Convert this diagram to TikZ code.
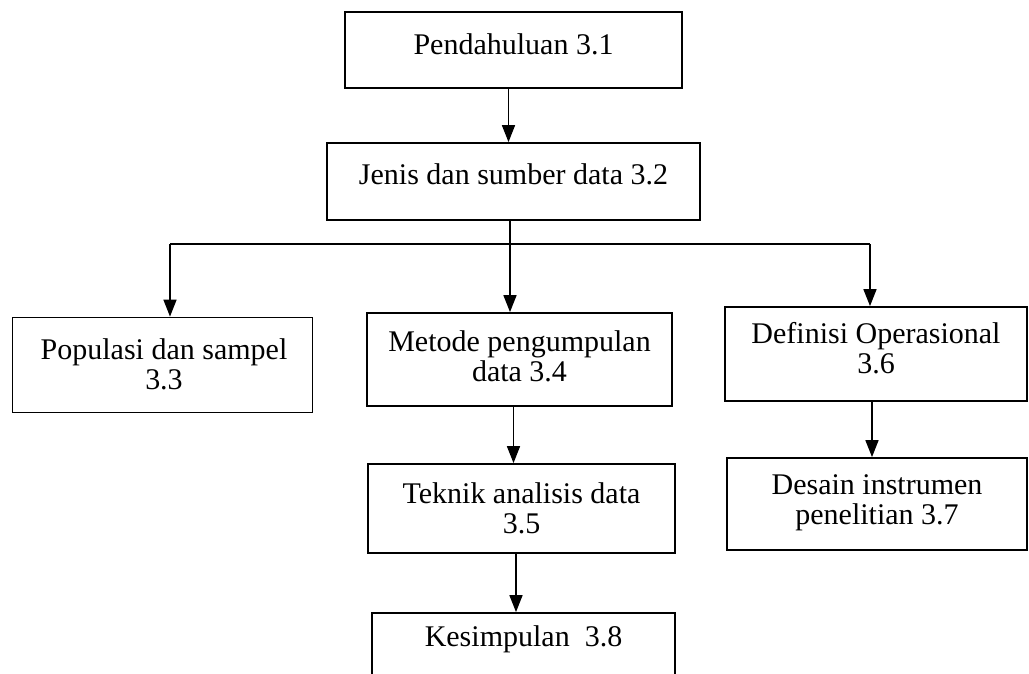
\documentclass[tikz,border=0pt]{standalone}
\usepackage{fontspec}
\setmainfont{Liberation Serif}
\usetikzlibrary{arrows.meta}
\newcommand{\twoln}[2]{\begin{tabular}[t]{@{}c@{}}#1\\#2\end{tabular}}
\begin{document}
\begin{tikzpicture}[x=1pt,y=-1pt,
  boxx/.style={draw, line width=1.8pt, inner sep=0pt, rectangle},
  lbl/.style={font=\fontsize{30}{30}\selectfont, inner sep=0pt, anchor=base},
  arr/.style={line width=1.6pt, -{Triangle[length=17pt,width=13pt]}},
  ln/.style={line width=1.6pt}]
\useasboundingbox (0,0) rectangle (1029,673);
\clip (0,0) rectangle (1029,673);
\fill[white] (0,0) rectangle (1029,673);

% boxes
\node[boxx, minimum width=337pt, minimum height=76pt] (b1) at (513.5,50) {};
\node[boxx, minimum width=373pt, minimum height=77pt] (b2) at (513.5,181.5) {};
\node[boxx, minimum width=300pt, minimum height=95pt] (b3) at (162.5,365) {};
\node[boxx, minimum width=305pt, minimum height=93pt] (b4) at (519.5,359.5) {};
\node[boxx, minimum width=302pt, minimum height=94pt] (b6) at (876,354) {};
\node[boxx, minimum width=307pt, minimum height=89pt] (b5) at (521.5,508.5) {};
\node[boxx, minimum width=300pt, minimum height=92pt] (b7) at (877,504) {};
\node[boxx, minimum width=303pt, minimum height=87pt] (b8) at (523.5,656.5) {};

% texts
\node[lbl] (t1) at (513.5,54) {Pendahuluan 3.1};
\node[lbl] (t2) at (513.5,184) {Jenis dan sumber data 3.2};
\node[lbl] (t3) at (164,359) {\twoln{Populasi dan sampel}{3.3}};
\node[lbl] (t4) at (519.5,351) {\twoln{Metode pengumpulan}{data 3.4}};
\node[lbl] (t6) at (876,343) {\twoln{Definisi Operasional}{3.6}};
\node[lbl] (t5) at (521.5,503) {\twoln{Teknik analisis data}{3.5}};
\node[lbl] (t7) at (877,494) {\twoln{Desain instrumen}{penelitian 3.7}};
\node[lbl] (t8) at (523.5,646) {Kesimpulan\ \ 3.8};

% connectors
\coordinate (j) at (510,244);
\coordinate (jl) at (170,244);
\coordinate (jr) at (870,244);
\draw[arr] ([xshift=-5]b1.south) -- ([xshift=-5]b2.north);
\draw[ln] (b2.south -| j) -- (j);
\draw[ln] (jl) -- (jr);
\draw[arr] (jl) -- (jl |- b3.north);
\draw[arr] (j) -- (j |- b4.north);
\draw[arr] (jr) -- (jr |- b6.north);
\draw[arr] ([xshift=-6]b4.south) -- ([xshift=-6]b4.south |- b5.north);
\draw[arr] ([xshift=-4]b6.south) -- ([xshift=-4]b6.south |- b7.north);
\draw[arr] ([xshift=-5.5]b5.south) -- ([xshift=-5.5]b5.south |- b8.north);
\end{tikzpicture}
\end{document}
